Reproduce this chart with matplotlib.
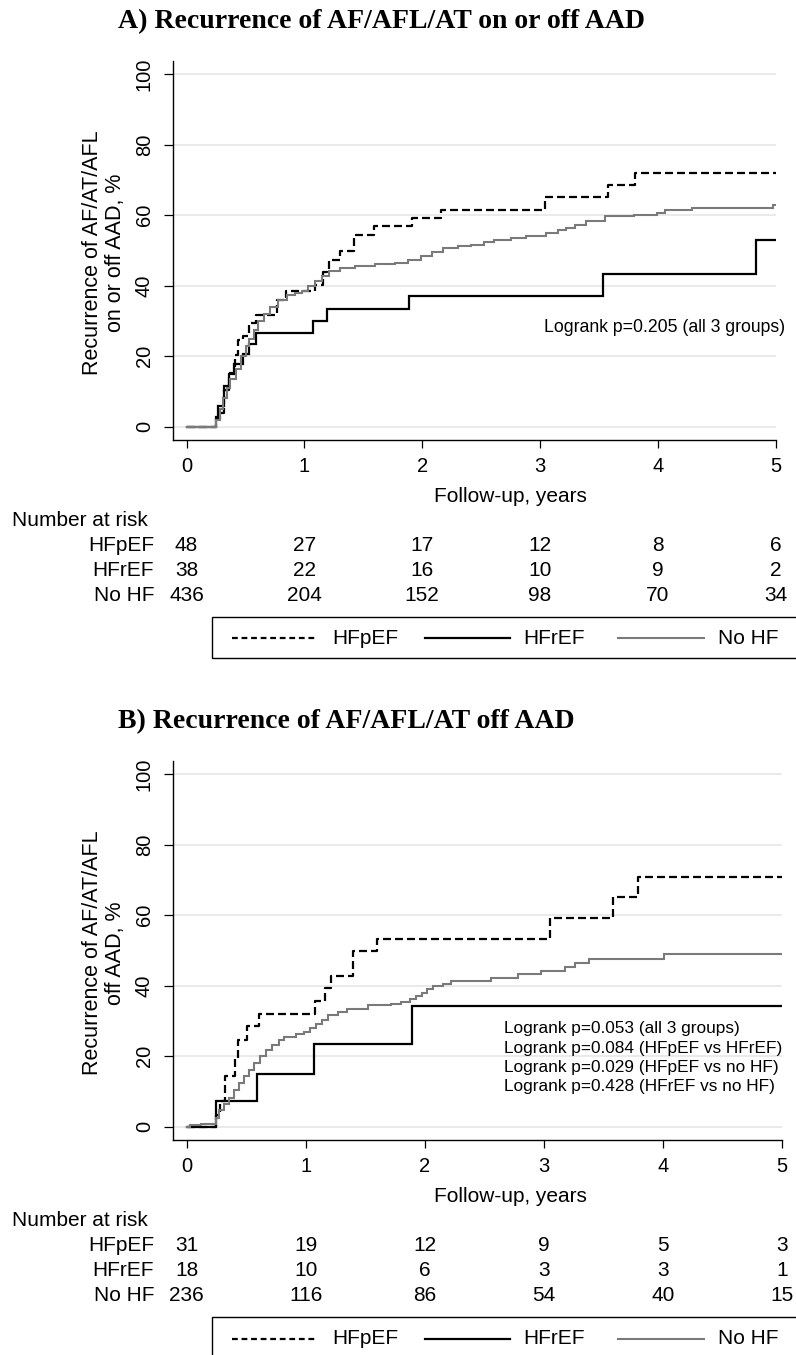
import matplotlib

matplotlib.use('Agg')

import matplotlib.pyplot as plt
from matplotlib import transforms
from matplotlib.lines import Line2D
from matplotlib.patches import Rectangle

plt.rcParams['font.family'] = ['Liberation Sans', 'DejaVu Sans']

# ---- data (years, cumulative recurrence %) ----
groups = ["HFpEF", "HFrEF", "No HF"]
years = [0, 1, 2, 3, 4, 5]

# panel A: on or off AAD
a_pef_t = [0, 0.25, 0.28, 0.32, 0.36, 0.41, 0.44, 0.48, 0.53, 0.59, 0.77, 0.84, 1.09,
           1.16, 1.19, 1.21, 1.30, 1.42, 1.59, 1.91, 2.16, 3.04, 3.58, 3.81, 5.0]
a_pef_y = [0, 2.1, 3.9, 10.5, 15.3, 20.4, 24.7, 25.6, 29.5, 31.8, 36.0, 38.4, 40.3,
           44.0, 44.6, 47.4, 49.8, 54.4, 56.9, 59.1, 61.5, 65.2, 68.6, 72.1, 72.1]
a_ref_t = [0, 0.25, 0.27, 0.32, 0.36, 0.40, 0.48, 0.53, 0.59, 1.07, 1.19, 1.89, 3.53, 4.83, 5.0]
a_ref_y = [0, 2.6, 5.8, 11.6, 14.8, 17.9, 20.6, 23.6, 26.6, 29.9, 33.4, 37.2, 43.4, 52.9, 52.9]
a_no_t = [0, 0.25, 0.28, 0.31, 0.34, 0.37, 0.42, 0.46, 0.50, 0.53, 0.57, 0.61, 0.66, 0.71,
          0.78, 0.85, 0.92, 0.98, 1.03, 1.09, 1.15, 1.21, 1.30, 1.43, 1.60, 1.77, 1.88,
          1.99, 2.08, 2.18, 2.30, 2.41, 2.52, 2.61, 2.75, 2.88, 3.05, 3.15, 3.22, 3.30,
          3.39, 3.55, 3.80, 3.99, 4.06, 4.29, 4.98, 5.0]
a_no_y = [0, 2.0, 5.0, 8.0, 11.0, 13.5, 16.5, 20.0, 23.0, 25.0, 27.5, 30.0, 32.0, 34.0,
          36.0, 37.5, 38.0, 38.5, 40.0, 41.3, 42.7, 44.1, 45.0, 45.7, 46.2, 46.5, 47.2,
          48.4, 49.5, 50.8, 51.2, 51.7, 52.3, 53.1, 53.6, 54.1, 55.0, 55.8, 56.4, 57.3,
          58.3, 59.8, 60.2, 60.7, 61.6, 62.1, 63.0, 63.0]
a_risk = {"HFpEF": [48, 27, 17, 12, 8, 6],
          "HFrEF": [38, 22, 16, 10, 9, 2],
          "No HF": [436, 204, 152, 98, 70, 34]}
a_logrank = ["Logrank p=0.205 (all 3 groups)"]

# panel B: off AAD
b_pef_t = [0, 0.25, 0.28, 0.32, 0.41, 0.43, 0.51, 0.61, 1.08, 1.16, 1.21, 1.40, 1.60,
           3.05, 3.58, 3.79, 5.0]
b_pef_y = [0, 3.2, 7.2, 14.3, 19.4, 24.7, 28.5, 32.1, 35.6, 39.3, 42.8, 50.0, 53.4,
           59.3, 65.2, 70.9, 70.9]
b_ref_t = [0, 0.25, 0.59, 1.07, 1.89, 5.0]
b_ref_y = [0, 7.2, 15.0, 23.5, 34.2, 34.2]
b_no_t = [0, 0.03, 0.12, 0.25, 0.27, 0.31, 0.36, 0.40, 0.44, 0.48, 0.52, 0.57, 0.62,
          0.67, 0.72, 0.78, 0.82, 0.92, 0.99, 1.04, 1.09, 1.14, 1.19, 1.27, 1.35, 1.52,
          1.72, 1.80, 1.88, 1.93, 1.98, 2.02, 2.07, 2.15, 2.22, 2.56, 2.78, 2.98, 3.18,
          3.26, 3.38, 4.01, 5.0]
b_no_y = [0, 0.4, 0.8, 2.5, 4.8, 6.5, 8.1, 10.3, 12.4, 14.3, 16.2, 18.2, 20.0, 21.8,
          23.3, 24.6, 25.4, 26.2, 26.9, 28.0, 29.0, 30.4, 31.7, 32.6, 33.4, 34.5, 34.9,
          35.5, 36.1, 37.0, 38.0, 39.0, 39.9, 40.6, 41.3, 42.2, 43.4, 44.3, 45.4, 46.5,
          47.6, 48.9, 48.9]
b_risk = {"HFpEF": [31, 19, 12, 9, 5, 3],
          "HFrEF": [18, 10, 6, 3, 3, 1],
          "No HF": [236, 116, 86, 54, 40, 15]}
b_logrank = ["Logrank p=0.053 (all 3 groups)",
             "Logrank p=0.084 (HFpEF vs HFrEF)",
             "Logrank p=0.029 (HFpEF vs no HF)",
             "Logrank p=0.428 (HFrEF vs no HF)"]

W, H = 796, 1355
styles = {"HFpEF": dict(color='black', lw=1.6, ls=(0, (3.6, 1.8))),
          "HFrEF": dict(color='black', lw=1.6, ls='-'),
          "No HF": dict(color='#7a7a7a', lw=1.5, ls='-')}
FS = 15  # stata text looks wider than arial at the same height

fig = plt.figure(figsize=(W / 100, H / 100), dpi=100)


def fx(px):
    return px / W


def fy(py):
    return 1 - py / H


def panel(dy, x5, title, ylab, curves, risk, logrank, lr_x, lr_ha, lr_ys, lr_fs):
    # axes box: y axis at 172.7 px, x=0 tick at ~186.6 px
    left_px, right_px = 172.7, x5
    top_px, bot_px = 60.7 + dy, 440.0 + dy
    ax = fig.add_axes([fx(left_px), fy(bot_px), (right_px - left_px) / W, (bot_px - top_px) / H])
    per_year = (x5 - 186.6) / 5
    ax.set_xlim(-(186.6 - left_px) / per_year, 5)
    ax.set_ylim(-3.8, 103.9)

    for name, (t, y) in zip(groups, curves):
        ax.step(t, y, where='post', solid_joinstyle='miter', **styles[name])

    for s in ['top', 'right']:
        ax.spines[s].set_visible(False)
    for s in ['left', 'bottom']:
        ax.spines[s].set_linewidth(1.0)
    ax.set_yticks([0, 20, 40, 60, 80, 100])
    ax.set_xticks(years)
    ax.yaxis.grid(True, color='#e6e6e6', lw=1.2)
    ax.set_axisbelow(True)
    ax.tick_params(axis='y', length=6.5, width=0.9, pad=7, labelsize=14.5)
    ax.tick_params(axis='x', length=6, width=0.9, pad=6, labelsize=14.5)
    plt.setp(ax.get_yticklabels(), rotation=90, va='center')

    fig.text(fx(118), fy(28.3 + dy), title, family='Liberation Serif', weight='bold',
             fontsize=20, ha='left', va='baseline')
    fig.text(fx(104), (fy(top_px) + fy(bot_px)) / 2 - 0.002, ylab, rotation=90, fontsize=15.5,
             ha='center', va='center', multialignment='center', linespacing=1.1)
    fig.text(fx(510), fy(496.7 + dy), "Follow-up, years", fontsize=FS, ha='center', va='center')

    for line, ypx in zip(logrank, lr_ys):
        fig.text(lr_x, fy(ypx + dy), line, fontsize=lr_fs, ha=lr_ha, va='center')

    # number at risk table
    tr = transforms.blended_transform_factory(ax.transData, fig.transFigure)
    fig.text(fx(11.7), fy(520 + dy), "Number at risk", fontsize=FS, ha='left', va='center')
    for r, name in enumerate(groups):
        ypx = [545.5, 570.5, 595.5][r] + dy
        fig.text(fx(154), fy(ypx), name, fontsize=FS, ha='right', va='center')
        for yr, n in zip(years, risk[name]):
            ax.text(yr, fy(ypx), str(n), transform=tr, fontsize=FS, ha='center',
                    va='center', clip_on=False)

    # legend box (runs past the right edge like the original)
    fig.add_artist(Rectangle((fx(212.3), fy(658 + dy)), fx(620), (658 - 616.7) / H,
                             transform=fig.transFigure, fill=False, ec='black', lw=1.0))
    leg_y = fy(638.5 + dy)
    for (x0, x1, tx), name in zip([(232, 317, 332), (425, 510, 523), (618, 704, 718)], groups):
        st = dict(styles[name])
        if name == "HFpEF":
            st['ls'] = (0, (2.6, 1.7))
        fig.add_artist(Line2D([fx(x0), fx(x1)], [leg_y, leg_y], transform=fig.transFigure, **st))
        fig.text(fx(tx), leg_y, name, fontsize=FS, ha='left', va='center')
    return ax


panel(0, 775.7, "A) Recurrence of AF/AFL/AT on or off AAD",
      "Recurrence of AF/AT/AFL\non or off AAD, %",
      [(a_pef_t, a_pef_y), (a_ref_t, a_ref_y), (a_no_t, a_no_y)],
      a_risk, a_logrank, fx(785), 'right', [327.0], 12.7)
panel(700, 782.0, "B) Recurrence of AF/AFL/AT off AAD",
      "Recurrence of AF/AT/AFL\noff AAD, %",
      [(b_pef_t, b_pef_y), (b_ref_t, b_ref_y), (b_no_t, b_no_y)],
      b_risk, b_logrank, fx(504), 'left', [328.0, 348.0, 367.5, 387.0], 12.4)

fig.savefig('out.png', dpi=100)
